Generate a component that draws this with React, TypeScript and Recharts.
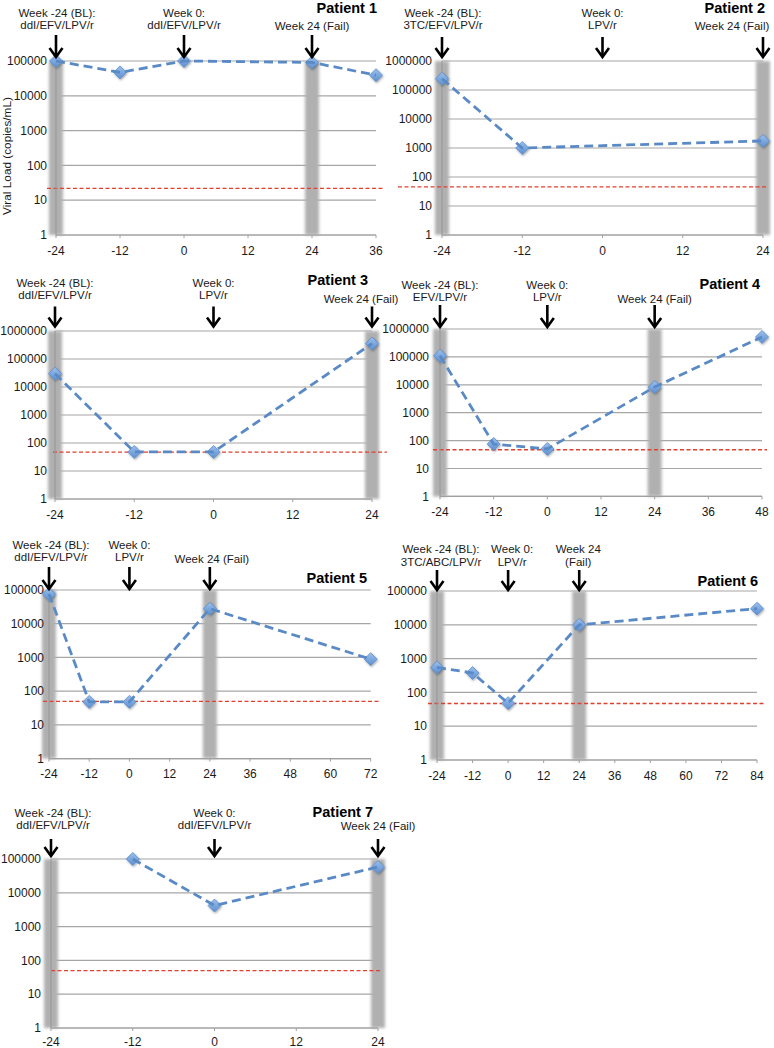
import React from 'react';
import { LineChart, Line, XAxis, YAxis, CartesianGrid, ReferenceLine, ReferenceDot } from 'recharts';

const FONT = '"Liberation Sans", Arial, Helvetica, sans-serif';

// ---------- data ----------
const p1Weeks = [-24, -12, 0, 24, 36];
const p1Load = [100000, 47000, 100000, 91000, 39000];
const p2Weeks = [-24, -12, 24];
const p2Load = [245000, 1000, 1750];
const p3Weeks = [-24, -12, 0, 24];
const p3Load = [30000, 48, 48, 355000];
const p4Weeks = [-24, -12, 0, 24, 48];
const p4Load = [110000, 75, 50, 8300, 520000];
const p5Weeks = [-24, -12, 0, 24, 72];
const p5Load = [76000, 48, 48, 28000, 890];
const p6Weeks = [-24, -12, 0, 24, 84];
const p6Load = [550, 375, 48, 10000, 30000];
const p7Weeks = [-12, 0, 24];
const p7Load = [100000, 4200, 58000];

const xTicks36 = [-24, -12, 0, 12, 24, 36];
const xTicks24 = [-24, -12, 0, 12, 24];
const xTicks48 = [-24, -12, 0, 12, 24, 36, 48];
const xTicks72 = [-24, -12, 0, 12, 24, 36, 48, 60, 72];
const xTicks84 = [-24, -12, 0, 12, 24, 36, 48, 60, 72, 84];
const yTicks5 = [1, 10, 100, 1000, 10000, 100000];
const yTicks6 = [1, 10, 100, 1000, 10000, 100000, 1000000];

const thresholds = [22, 46, 47, 47, 50, 47, 50];
const failBands = [-24, 24];
const markWeeks = [-24, 0, 24];

const p1Notes = [['Week -24 (BL):', 'ddI/EFV/LPV/r'], ['Week 0:', 'ddI/EFV/LPV/r'], ['Week 24 (Fail)']];
const p2Notes = [['Week -24 (BL):', '3TC/EFV/LPV/r'], ['Week 0:', 'LPV/r'], ['Week 24 (Fail)']];
const p3Notes = [['Week -24 (BL):', 'ddI/EFV/LPV/r'], ['Week 0:', 'LPV/r'], ['Week 24 (Fail)']];
const p4Notes = [['Week -24 (BL):', 'EFV/LPV/r'], ['Week 0:', 'LPV/r'], ['Week 24 (Fail)']];
const p5Notes = [['Week -24 (BL):', 'ddI/EFV/LPV/r'], ['Week 0:', 'LPV/r'], ['Week 24 (Fail)']];
const p6Notes = [['Week -24 (BL):', '3TC/ABC/LPV/r'], ['Week 0:', 'LPV/r'], ['Week 24', '(Fail)']];
const p7Notes = [['Week -24 (BL):', 'ddI/EFV/LPV/r'], ['Week 0:', 'ddI/EFV/LPV/r'], ['Week 24 (Fail)']];

const titles = ['Patient 1', 'Patient 2', 'Patient 3', 'Patient 4', 'Patient 5', 'Patient 6', 'Patient 7'];
const yAxisTitle = 'Viral Load (copies/mL)';

// ---------- layout ----------
type Layout = {
  l: number; r: number; t: number; b: number;
  tickGap: number; xGap: number; extL: number; extR: number;
  tipGap: number; arrowLen: number;
  noteDy: number[]; noteDx: number[];
  titleX: number; titleY: number;
};

const layouts: Layout[] = [
  { l: 56, r: 376, t: 61, b: 235, tickGap: 9, xGap: 8, extL: 9, extR: 7, tipGap: 4, arrowLen: 22, noteDy: [10, 10, 9], noteDx: [1, 0, 0], titleX: 377, titleY: 8 },
  { l: 442, r: 763, t: 61, b: 235, tickGap: 10, xGap: 8, extL: 44, extR: 4, tipGap: 4, arrowLen: 20, noteDy: [12, 12, 11], noteDx: [1, 0, -31], titleX: 765, titleY: 8 },
  { l: 55, r: 372, t: 330.7, b: 498.7, tickGap: 8, xGap: 8, extL: 2, extR: 15, tipGap: 4.5, arrowLen: 20, noteDy: [11.5, 11.5, 8], noteDx: [0, 0, -11], titleX: 368, titleY: 280 },
  { l: 440, r: 762, t: 329.3, b: 496.7, tickGap: 11, xGap: 8, extL: 7, extR: 5, tipGap: 2, arrowLen: 22, noteDy: [8, 8, 6], noteDx: [0, 0, 0], titleX: 760, titleY: 284 },
  { l: 49.3, r: 371, t: 589.7, b: 758.3, tickGap: 5, xGap: 8, extL: 6, extR: 9, tipGap: 1, arrowLen: 22, noteDy: [10, 10, 8], noteDx: [2, 0, 2], titleX: 367, titleY: 578 },
  { l: 437.3, r: 757.3, t: 591, b: 760, tickGap: 10, xGap: 8, extL: 9, extR: 8, tipGap: 1, arrowLen: 20, noteDy: [8.5, 8.5, 8.5], noteDx: [4, 4, -1], titleX: 758, titleY: 581 },
  { l: 50.7, r: 377.7, t: 859.3, b: 1028.3, tickGap: 10, xGap: 6, extL: 0, extR: 2, tipGap: 3, arrowLen: 17, noteDy: [14, 14, 13], noteDx: [2, 0, 0], titleX: 373, titleY: 812 },
];

const Y_AXIS_W = 60;
const TOP_M = 80;
const RIGHT_M = 48;
const X_AXIS_H = 26;

type PanelProps = {
  idx: number;
  weeks: number[];
  loads: number[];
  xTicks: number[];
  yTicks: number[];
  notes: string[][];
};

const Diamond = (p: any) => {
  if (p.cx == null || p.cy == null) return <g key={`e-${p.index}`} />;
  const s = 6.5;
  const { cx, cy } = p;
  return (
    <polygon
      key={`d-${p.index}`}
      points={`${cx},${cy - s} ${cx + s},${cy} ${cx},${cy + s} ${cx - s},${cy}`}
      fill="url(#dotGrad)"
      stroke="#5b8dcb"
      strokeWidth={0.8}
      filter="url(#dotShadow)"
    />
  );
};

const Panel = ({ idx, weeks, loads, xTicks, yTicks, notes }: PanelProps) => {
  const L = layouts[idx];
  const data = weeks.map((w, i) => ({ week: w, load: loads[i] }));
  const yMax = yTicks[yTicks.length - 1];
  const xMin = xTicks[0];
  const xMax = xTicks[xTicks.length - 1];
  const left = L.l - Y_AXIS_W;
  const top = L.t - TOP_M;
  const width = L.r - L.l + Y_AXIS_W + RIGHT_M;
  const height = L.b - L.t + TOP_M + X_AXIS_H;

  return (
    <div style={{ position: 'absolute', left, top, width, height }}>
      <LineChart
        width={width}
        height={height}
        data={data}
        margin={{ top: TOP_M, right: RIGHT_M, left: 0, bottom: 0 }}
        style={{ fontFamily: FONT }}
      >
        <CartesianGrid vertical={false} stroke="#a6a6a6" strokeWidth={1.2} />
        {failBands.map((w) => (
          <ReferenceLine
            key={`band-${w}`}
            x={w}
            ifOverflow="visible"
            zIndex={-50}
            shape={(p: any) => (
              <line
                x1={p.x1}
                x2={p.x2}
                y1={p.y1}
                y2={p.y2}
                stroke="#b0b0b0"
                strokeWidth={14}
                filter="url(#softBand)"
              />
            )}
          />
        ))}
        <ReferenceLine
          y={thresholds[idx]}
          ifOverflow="visible"
          zIndex={-40}
          shape={(p: any) => (
            <line
              x1={p.x1 - L.extL}
              x2={p.x2 + L.extR}
              y1={p.y1}
              y2={p.y2}
              stroke="#e0402c"
              strokeWidth={1.3}
              strokeDasharray="4 2.5"
            />
          )}
        />
        <XAxis
          dataKey="week"
          type="number"
          domain={[xMin, xMax]}
          ticks={xTicks}
          interval={0}
          height={X_AXIS_H}
          axisLine={{ stroke: '#a0a0a0', strokeWidth: 1.2 }}
          tickLine={{ stroke: '#a0a0a0' }}
          tickSize={3}
          tickMargin={L.xGap}
          tick={{ fontSize: 12, fill: '#1a1a1a', fontFamily: FONT }}
        />
        <YAxis
          scale="log"
          domain={[1, yMax]}
          ticks={yTicks}
          interval={0}
          width={Y_AXIS_W}
          axisLine={{ stroke: '#9a9a9a', strokeWidth: 1.2 }}
          tickLine={false}
          tickSize={0}
          tickMargin={L.tickGap}
          tick={{ fontSize: 12, fill: '#1a1a1a', fontFamily: FONT }}
        />
        <Line
          dataKey="load"
          stroke="#5a8ac6"
          strokeWidth={2.8}
          strokeDasharray="9 5"
          dot={Diamond}
          activeDot={false}
          isAnimationActive={false}
          zIndex={600}
        />
        {markWeeks.map((w, i) => (
          <ReferenceDot
            key={`mark-${w}`}
            x={w}
            y={yMax}
            r={0}
            ifOverflow="visible"
            zIndex={700}
            shape={(p: any) => {
              const cx = p.cx;
              const tip = p.cy - L.tipGap;
              const start = tip - L.arrowLen;
              const lines = notes[i];
              const tx = cx + L.noteDx[i];
              const lastY = start - L.noteDy[i];
              return (
                <g>
                  <line x1={cx} x2={cx} y1={start} y2={tip - 1} stroke="#000" strokeWidth={2.6} />
                  <polyline
                    points={`${cx - 6.5},${tip - 9} ${cx},${tip} ${cx + 6.5},${tip - 9}`}
                    fill="none"
                    stroke="#000"
                    strokeWidth={2.6}
                  />
                  {lines.map((s, k) => (
                    <text
                      key={k}
                      x={tx}
                      y={lastY - (lines.length - 1 - k) * 12.2}
                      dy="0.35em"
                      textAnchor="middle"
                      fontSize={11.5}
                      fill="#1a1a1a"
                      fontFamily={FONT}
                    >
                      {s}
                    </text>
                  ))}
                </g>
              );
            }}
          />
        ))}
      </LineChart>
    </div>
  );
}

export default function App() {
  return (
    <div style={{ position: 'absolute', left: 0, top: 0, width: 774, height: 1048, background: '#fff', fontFamily: FONT, overflow: 'hidden' }}>
      <svg width={0} height={0} style={{ position: 'absolute' }}>
        <defs>
          <filter id="softBand" filterUnits="userSpaceOnUse" x={-200} y={-200} width={2000} height={2000}>
            <feGaussianBlur stdDeviation={1.4} />
          </filter>
          <filter id="dotShadow" x="-60%" y="-60%" width="220%" height="220%">
            <feDropShadow dx={0.8} dy={1.2} stdDeviation={1} floodColor="#000" floodOpacity={0.35} />
          </filter>
          <linearGradient id="dotGrad" x1="0" y1="0" x2="0" y2="1">
            <stop offset="0%" stopColor="#9cc0ec" />
            <stop offset="100%" stopColor="#5d8fd0" />
          </linearGradient>
        </defs>
      </svg>
      <Panel idx={0} weeks={p1Weeks} loads={p1Load} xTicks={xTicks36} yTicks={yTicks5} notes={p1Notes} />
      <Panel idx={1} weeks={p2Weeks} loads={p2Load} xTicks={xTicks24} yTicks={yTicks6} notes={p2Notes} />
      <Panel idx={2} weeks={p3Weeks} loads={p3Load} xTicks={xTicks24} yTicks={yTicks6} notes={p3Notes} />
      <Panel idx={3} weeks={p4Weeks} loads={p4Load} xTicks={xTicks48} yTicks={yTicks6} notes={p4Notes} />
      <Panel idx={4} weeks={p5Weeks} loads={p5Load} xTicks={xTicks72} yTicks={yTicks5} notes={p5Notes} />
      <Panel idx={5} weeks={p6Weeks} loads={p6Load} xTicks={xTicks84} yTicks={yTicks5} notes={p6Notes} />
      <Panel idx={6} weeks={p7Weeks} loads={p7Load} xTicks={xTicks24} yTicks={yTicks5} notes={p7Notes} />
      <svg width={774} height={1048} style={{ position: 'absolute', left: 0, top: 0, pointerEvents: 'none' }}>
        {titles.map((t, i) => (
          <text
            key={t}
            x={layouts[i].titleX}
            y={layouts[i].titleY}
            dy="0.35em"
            textAnchor="end"
            fontSize={14.5}
            fontWeight="bold"
            fill="#000"
            fontFamily={FONT}
          >
            {t}
          </text>
        ))}
        <text
          transform="translate(7,156) rotate(-90)"
          textAnchor="middle"
          dy="0.35em"
          fontSize={11.8}
          fill="#1a1a1a"
          fontFamily={FONT}
        >
          {yAxisTitle}
        </text>
      </svg>
    </div>
  );
}
